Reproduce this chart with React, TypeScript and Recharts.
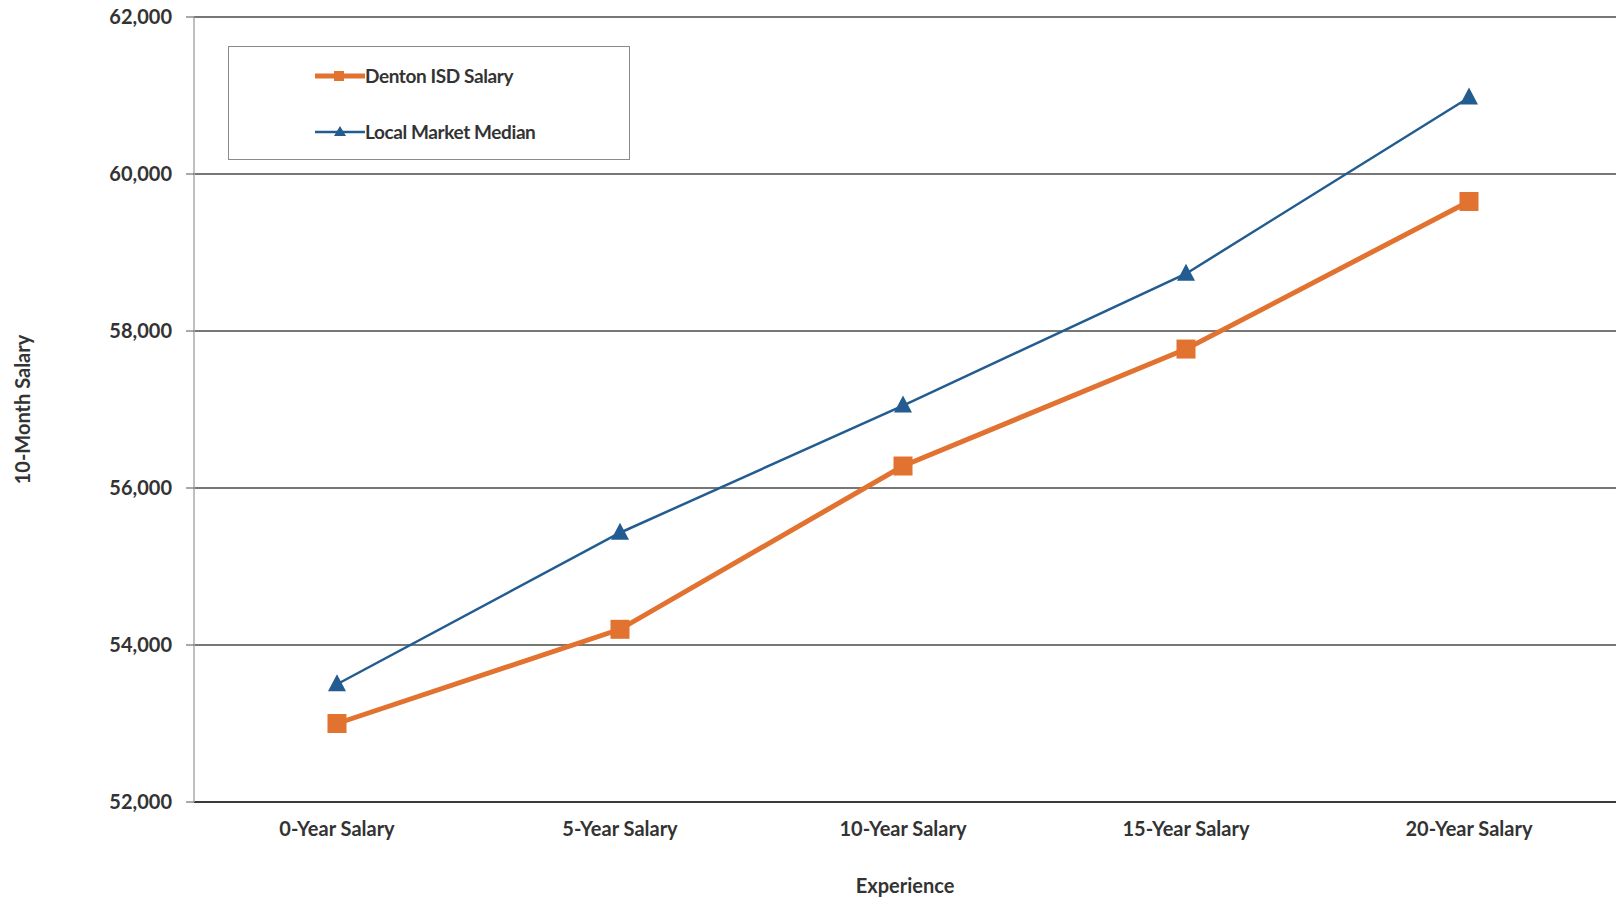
import React from 'react'
import { LineChart, Line, XAxis, YAxis, CartesianGrid, Label } from 'recharts'

const categories = ['0-Year Salary', '5-Year Salary', '10-Year Salary', '15-Year Salary', '20-Year Salary']
const dentonSalary = [53000, 54200, 56280, 57770, 59650]
const marketMedian = [53500, 55430, 57050, 58730, 60975]
const yTicks = [52000, 54000, 56000, 58000, 60000, 62000]

const ORANGE = '#E2722F'
const BLUE = '#235C90'
const FONT = 'Lato, "Open Sans", sans-serif'
const TEXT = '#333'

const data = categories.map((c, i) => ({
  name: c,
  denton: dentonSalary[i],
  market: marketMedian[i],
}))

const SquareDot = (props: any) => {
  const { cx, cy } = props
  if (cx == null || cy == null) return null
  return <rect x={cx - 9.5} y={cy - 9.5} width={19} height={19} fill={ORANGE} />
}

const TriangleDot = (props: any) => {
  const { cx, cy } = props
  if (cx == null || cy == null) return null
  return <polygon points={`${cx},${cy - 10} ${cx + 9},${cy + 7} ${cx - 9},${cy + 7}`} fill={BLUE} />
}

// legend sits inside the plot, drawn on top, doesn't push the chart around
const LegendBox = () => (
  <div
    style={{
      position: 'absolute',
      left: 228,
      top: 46,
      width: 400,
      height: 112,
      border: '1.5px solid #8a8a8a',
      background: '#fff',
      fontFamily: FONT,
      fontWeight: 700,
      fontSize: 19,
      color: TEXT,
    }}
  >
    <div style={{ position: 'absolute', left: 86, top: 17, display: 'flex', alignItems: 'center' }}>
      <svg width={50} height={14}>
        <line x1={0} y1={7} x2={50} y2={7} stroke={ORANGE} strokeWidth={5} />
        <rect x={19} y={2} width={10} height={10} fill={ORANGE} />
      </svg>
      <span style={{ letterSpacing: -0.4 }}>Denton ISD Salary</span>
    </div>
    <div style={{ position: 'absolute', left: 86, top: 73, display: 'flex', alignItems: 'center' }}>
      <svg width={50} height={14}>
        <line x1={0} y1={7} x2={50} y2={7} stroke={BLUE} strokeWidth={2.5} />
        <polygon points="25,1 31,11 19,11" fill={BLUE} />
      </svg>
      <span style={{ letterSpacing: -0.4 }}>Local Market Median</span>
    </div>
  </div>
)

export default function App() {
  return (
    <div style={{ position: 'fixed', left: 0, top: 0, width: 1616, height: 904, background: '#fff' }}>
      <LineChart width={1616} height={904} data={data} margin={{ top: 17, right: 0, left: 0, bottom: 0 }}>
        <CartesianGrid vertical={false} stroke="#4a4a4a" strokeWidth={1.3} />
        <XAxis
          dataKey="name"
          height={102}
          padding={{ left: 143, right: 147 }}
          axisLine={{ stroke: '#3a3a3a', strokeWidth: 2 }}
          tickLine={false}
          tick={{ fontSize: 20, fontWeight: 700, fill: TEXT, fontFamily: FONT }}
          tickMargin={14}
        >
          <Label
            value="Experience"
            position="insideBottom"
            offset={11}
            style={{ fontSize: 20, fontWeight: 700, fill: TEXT, fontFamily: FONT }}
          />
        </XAxis>
        <YAxis
          domain={[52000, 62000]}
          ticks={yTicks}
          width={194}
          axisLine={{ stroke: '#aaa', strokeWidth: 1.5 }}
          tickLine={{ stroke: '#555' }}
          tickSize={8}
          tickMargin={14}
          tickFormatter={(v: number) => v.toLocaleString('en-US')}
          tick={{ fontSize: 20, fontWeight: 700, fill: TEXT, fontFamily: FONT }}
        >
          <Label
            value="10-Month Salary"
            angle={-90}
            position="insideLeft"
            offset={23}
            style={{ fontSize: 20, fontWeight: 700, fill: TEXT, fontFamily: FONT, textAnchor: 'middle' }}
          />
        </YAxis>
        <Line
          type="linear"
          dataKey="denton"
          name="Denton ISD Salary"
          stroke={ORANGE}
          strokeWidth={5}
          dot={<SquareDot />}
          activeDot={false}
          isAnimationActive={false}
        />
        <Line
          type="linear"
          dataKey="market"
          name="Local Market Median"
          stroke={BLUE}
          strokeWidth={2.5}
          dot={<TriangleDot />}
          activeDot={false}
          isAnimationActive={false}
        />
      </LineChart>
      <LegendBox />
    </div>
  )
}
